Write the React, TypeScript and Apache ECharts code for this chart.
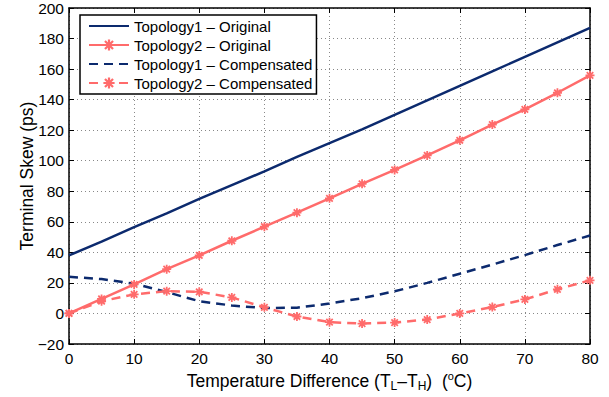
import React, { useEffect, useRef } from "react";
import * as echarts from "echarts";

const xValues = [0, 5, 10, 15, 20, 25, 30, 35, 40, 45, 50, 55, 60, 65, 70, 75, 80];
const topo1Original = [38, 47, 56.5, 65.5, 75, 84, 93, 102.5, 111.5, 120.5, 130, 139.5, 149, 158.5, 168, 177.5, 187];
const topo2Original = [0, 9.5, 19, 29, 38, 47.6, 56.8, 66, 75.4, 84.9, 94, 103.5, 113.4, 123.7, 133.6, 144.5, 155.9];
const topo1Compensated = [24, 22.5, 19.5, 14, 8, 5.2, 3.5, 3.8, 6.5, 10, 14.5, 20, 26, 32, 38.2, 44.8, 51];
const topo2Compensated = [0, 8, 12.5, 14.6, 14.2, 10.5, 4, -2, -5.7, -6.6, -6, -4, 0, 4.2, 9.2, 15.8, 21.7];

const seriesNames = [
  "Topology1 \u2013 Original",
  "Topology2 \u2013 Original",
  "Topology1 \u2013 Compensated",
  "Topology2 \u2013 Compensated",
];

const BLUE = "#0c2a6e";
const RED = "#ff6b6b";
const FONT = "Liberation Sans, Arial, Helvetica, sans-serif";
const STAR =
  "path://M4,0 H6 V4 H10 V6 H6 V10 H4 V6 H0 V4 H4 Z M0.7,2.1 L2.1,0.7 L9.3,7.9 L7.9,9.3 Z M7.9,0.7 L9.3,2.1 L2.1,9.3 L0.7,7.9 Z";

function pairs(ys: number[]) {
  return xValues.map((x, i) => [x, ys[i]]);
}

export default function App() {
  const ref = useRef<HTMLDivElement>(null);
  useEffect(() => {
    if (!ref.current) return;
    const chart = echarts.init(ref.current, undefined, { renderer: "svg" });
    const axisLine = { show: true, onZero: false, lineStyle: { color: "#000", width: 1.5 } };
    const tick = { show: true, inside: true, length: 5, lineStyle: { color: "#000", width: 1 } };
    const split = { show: true, lineStyle: { color: "#888", type: [1, 3], width: 1 } };
    chart.setOption({
      animation: false,
      backgroundColor: "#fff",
      textStyle: { fontFamily: FONT },
      grid: { left: 69, right: 19, top: 8, bottom: 53, containLabel: false },
      legend: {
        orient: "vertical",
        left: 80,
        top: 15,
        backgroundColor: "#fff",
        borderColor: "#000",
        borderWidth: 1.5,
        padding: [3, 4, 3, 8],
        itemWidth: 40,
        itemHeight: 14,
        itemGap: 3,
        textStyle: { fontSize: 15, color: "#000", fontFamily: FONT, lineHeight: 16 },
        data: [
          { name: seriesNames[0], itemStyle: { opacity: 0 } },
          { name: seriesNames[1] },
          { name: seriesNames[2], itemStyle: { opacity: 0 } },
          { name: seriesNames[3] },
        ],
      },
      xAxis: [
        {
          type: "value",
          min: 0,
          max: 80,
          interval: 10,
          axisLine,
          axisTick: tick,
          splitLine: split,
          axisLabel: { color: "#000", fontSize: 15.5, margin: 6, fontFamily: FONT },
          name: "Temperature Difference (T{sub|L}\u2013T{sub|H})  ({sup|o}C)",
          nameLocation: "middle",
          nameGap: 24,
          nameTextStyle: {
            color: "#000",
            fontSize: 17.5,
            fontFamily: FONT,
            rich: {
              sub: { fontSize: 12, verticalAlign: "bottom", padding: [9, 0, 0, 0], color: "#000", fontFamily: FONT },
              sup: { fontSize: 11, verticalAlign: "top", padding: [0, 0, 10, 0], color: "#000", fontFamily: FONT },
            },
          },
        },
        {
          type: "value",
          position: "top",
          min: 0,
          max: 80,
          interval: 10,
          axisLine,
          axisTick: tick,
          splitLine: { show: false },
          axisLabel: { show: false },
        },
      ],
      yAxis: [
        {
          type: "value",
          min: -20,
          max: 200,
          interval: 20,
          axisLine,
          axisTick: tick,
          splitLine: split,
          axisLabel: {
            color: "#000",
            fontSize: 15.5,
            margin: 5,
            fontFamily: FONT,
            formatter: (v: number) => String(v).replace("-", "\u2212"),
          },
          name: "Terminal Skew (ps)",
          nameLocation: "middle",
          nameGap: 33,
          nameMoveOverlap: false,
          nameTextStyle: { color: "#000", fontSize: 17.5, fontFamily: FONT },
        },
        {
          type: "value",
          position: "right",
          min: -20,
          max: 200,
          interval: 20,
          axisLine,
          axisTick: tick,
          splitLine: { show: false },
          axisLabel: { show: false },
        },
      ],
      series: [
        {
          name: seriesNames[0],
          type: "line",
          data: pairs(topo1Original),
          showSymbol: false,
          symbol: "none",
          lineStyle: { color: BLUE, width: 2.5 },
          itemStyle: { color: BLUE },
          z: 3,
        },
        {
          name: seriesNames[1],
          type: "line",
          data: pairs(topo2Original),
          symbol: STAR,
          symbolSize: 9,
          lineStyle: { color: RED, width: 2.5 },
          itemStyle: { color: RED },
          z: 4,
        },
        {
          name: seriesNames[2],
          type: "line",
          data: pairs(topo1Compensated),
          showSymbol: false,
          symbol: "none",
          lineStyle: { color: BLUE, width: 2.5, type: [9, 6] },
          itemStyle: { color: BLUE },
          z: 3,
        },
        {
          name: seriesNames[3],
          type: "line",
          data: pairs(topo2Compensated),
          symbol: STAR,
          symbolSize: 9,
          lineStyle: { color: RED, width: 2.5, type: [9, 6] },
          itemStyle: { color: RED },
          z: 4,
        },
      ],
    });
    return () => chart.dispose();
  }, []);
  return <div ref={ref} style={{ position: "absolute", left: 0, top: 0, width: 609, height: 397 }} />;
}
